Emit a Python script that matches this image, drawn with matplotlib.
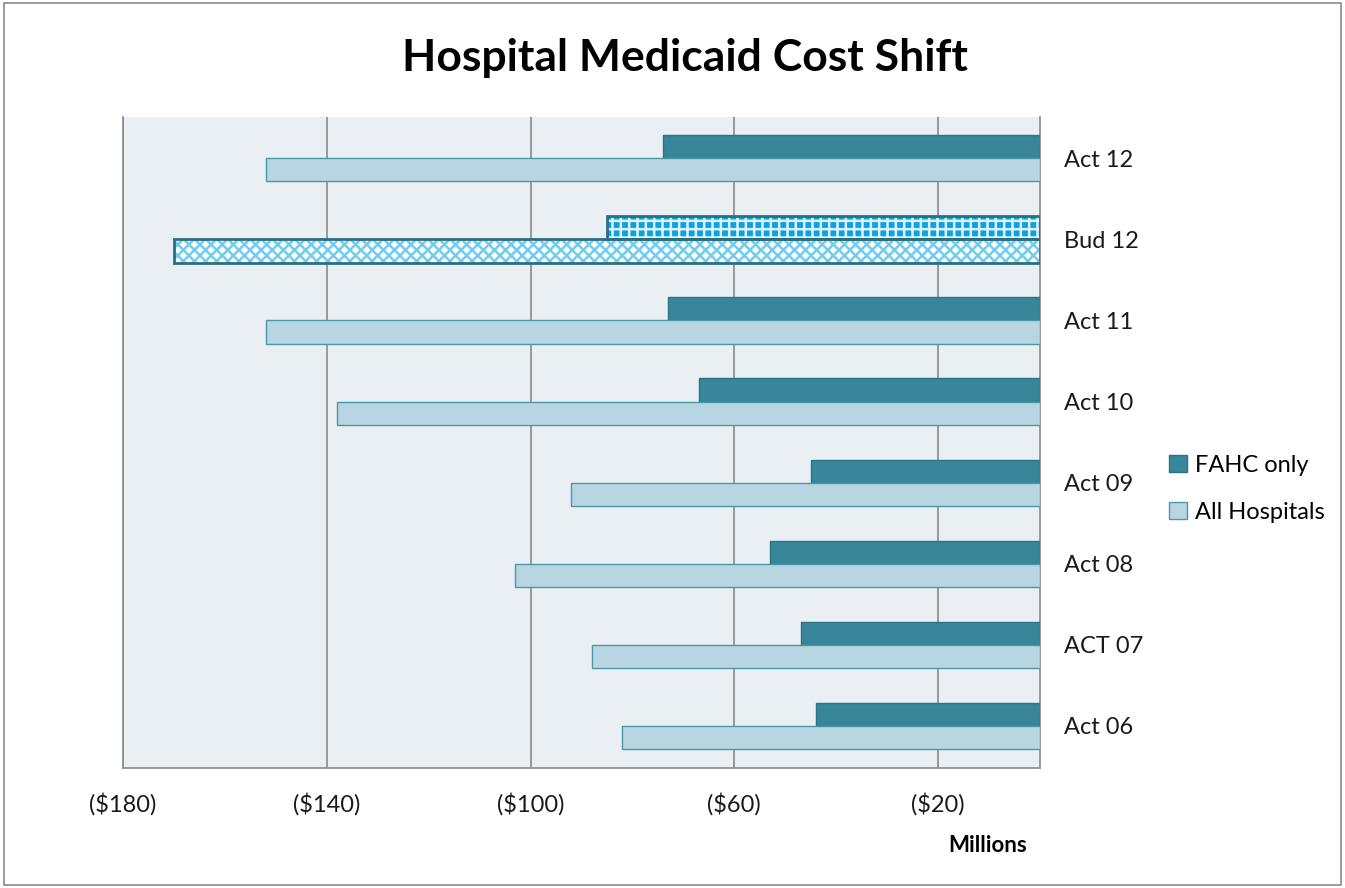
import matplotlib
matplotlib.use("Agg")
import matplotlib.pyplot as plt
import numpy as np
from matplotlib.patches import Rectangle, Patch

categories = ["Act 12", "Bud 12", "Act 11", "Act 10", "Act 09", "Act 08", "ACT 07", "Act 06"]
fahc_only = [-74, -85, -73, -67, -45, -53, -47, -44]
all_hospitals = [-152, -170, -152, -138, -92, -103, -88, -82]
xticks = [-180, -140, -100, -60, -20]
xtick_labels = ["($180)", "($140)", "($100)", "($60)", "($20)"]
budget_index = 1

plt.rcParams['font.family'] = ['Lato', 'DejaVu Sans']
plt.rcParams['hatch.linewidth'] = 1.8

fig = plt.figure(figsize=(13.45, 8.88), dpi=100)
ax = fig.add_axes([123/1345, 1-768/888, (1040-123)/1345, (768-117)/888])
ax.set_facecolor('#e9eff3')

fahc_color = '#37869a'
fahc_edge = '#2d7486'
all_color = '#b8d6e1'
all_edge = '#4b98ad'

n = len(categories)
y = np.arange(n)[::-1].astype(float)
h = 0.285

for i in range(n):
    yc = y[i]
    if i == budget_index:
        ax.barh(yc + h/2, fahc_only[i], height=h, color='#0aa2e6', edgecolor='#dff3fc', hatch='++', linewidth=0, zorder=3)
        ax.barh(yc + h/2, fahc_only[i], height=h, color='none', edgecolor='#2b6f82', linewidth=2, zorder=4)
        ax.barh(yc - h/2, all_hospitals[i], height=h, color='white', edgecolor='#6fcdf2', hatch='xxx', linewidth=0, zorder=3)
        ax.barh(yc - h/2, all_hospitals[i], height=h, color='none', edgecolor='#2b6f82', linewidth=2, zorder=4)
    else:
        ax.barh(yc + h/2, fahc_only[i], height=h, color=fahc_color, edgecolor=fahc_edge, linewidth=1, zorder=3)
        ax.barh(yc - h/2, all_hospitals[i], height=h, color=all_color, edgecolor=all_edge, linewidth=1, zorder=3)

ax.set_xlim(-180, 0)
ax.set_ylim(-0.5 - 0.02, n - 0.5 + 0.01)
ax.set_xticks(xticks)
ax.set_xticklabels(xtick_labels, fontsize=17)
ax.xaxis.grid(True, color='#8a8a8a', linewidth=1.2, zorder=1)
ax.set_axisbelow(True)
ax.tick_params(axis='x', length=0, pad=18, labelcolor='#1a1a1a')
ax.yaxis.tick_right()
ax.set_yticks(y)
ax.set_yticklabels(categories, fontsize=17)
ax.tick_params(axis='y', length=0, pad=17, labelcolor='#1a1a1a')
ax.spines['top'].set_visible(False)
for s in ['left', 'bottom', 'right']:
    ax.spines[s].set_color('#8a8a8a')
    ax.spines[s].set_linewidth(1.2)

fig.text(685/1345, 1-58/888, "Hospital Medicaid Cost Shift", ha='center', va='center', fontsize=32, fontweight='bold', color='#000000')
fig.text(988/1345, 1-845/888, "Millions", ha='center', va='center', fontsize=16, fontweight='bold', color='#000000')

handles = [Patch(facecolor=fahc_color, edgecolor=fahc_edge), Patch(facecolor=all_color, edgecolor=all_edge)]
fig.legend(handles, ["FAHC only", "All Hospitals"], loc='center left', bbox_to_anchor=(1169/1345, 1-489/888),
           frameon=False, fontsize=17, handlelength=0.75, handleheight=0.75, handletextpad=0.35, labelspacing=1.1,
           borderaxespad=0, borderpad=0)

border = Rectangle((0.003, 0.003), 0.994, 0.994, transform=fig.transFigure, fill=False, edgecolor='#8a8a8a', linewidth=1.2)
fig.patches.append(border)

fig.savefig("out.png", dpi=100, facecolor='white')
